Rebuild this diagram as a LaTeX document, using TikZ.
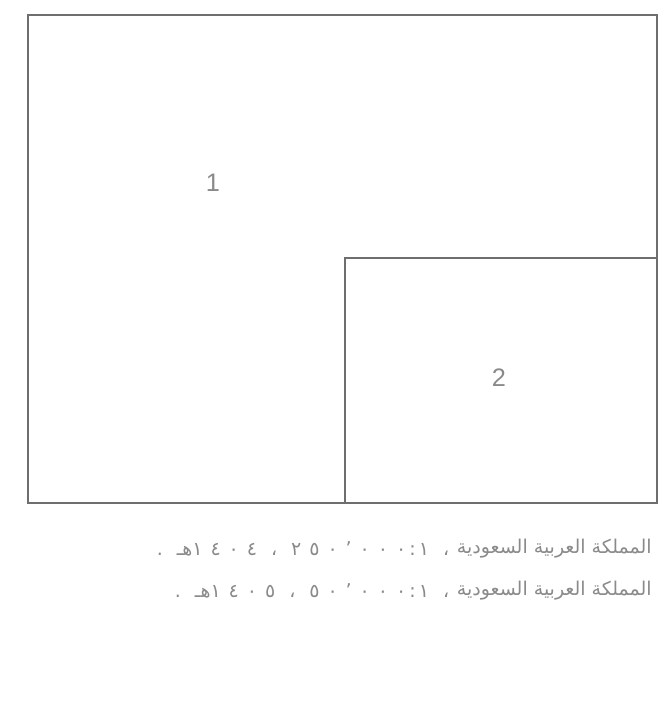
\documentclass[tikz,border=0pt]{standalone}
\usepackage{fontspec}
\setmainfont{Liberation Sans}
\newfontfamily\arabicfont[Script=Arabic]{DejaVu Sans}
\newfontfamily\arabicnums[Script=Arabic, LetterSpace=42]{DejaVu Sans}
\TeXXeTstate=1
\usetikzlibrary{positioning}
\definecolor{FrameGray}{HTML}{6E6E6E}
\definecolor{TextGray}{HTML}{8A8A8A}
\newcommand{\hijri}{{\arabicfont هـ}}

\begin{document}
\begin{tikzpicture}[x=0.025cm, y=-0.025cm,
        every node/.style={TextGray, inner sep=0pt},
        srcname/.style={anchor=east, font=\arabicfont\fontsize{13.5}{16}\selectfont},
        srcnums/.style={left=5pt of #1, font=\arabicnums\fontsize{13.5}{16}\selectfont}]
        \useasboundingbox (0,0) rectangle (668,719);
        \draw[FrameGray, line width=1.1pt] (28,15) rectangle (657,503);
        \draw[FrameGray, line width=1.1pt] (345,503) -- (345,258) -- (657,258);
        \node[font=\fontsize{18}{20}\selectfont] (one) at (213,183) {1};
        \node[font=\fontsize{18}{20}\selectfont] (two) at (499,378) {2};
        % sources
        \node[srcname] (srcA) at (652,549) {\beginR المملكة العربية السعودية\endR};
        \node[srcnums=srcA] (numA) {\beginR ، ١\,:\,٢٥٠٬٠٠٠ ، ١٤٠٤\hijri\ .\endR};
        \node[srcname] (srcB) at (652,591) {\beginR المملكة العربية السعودية\endR};
        \node[srcnums=srcB] (numB) {\beginR ، ١\,:\,٥٠٬٠٠٠ ، ١٤٠٥\hijri\ .\endR};
      \end{tikzpicture}
\end{document}
